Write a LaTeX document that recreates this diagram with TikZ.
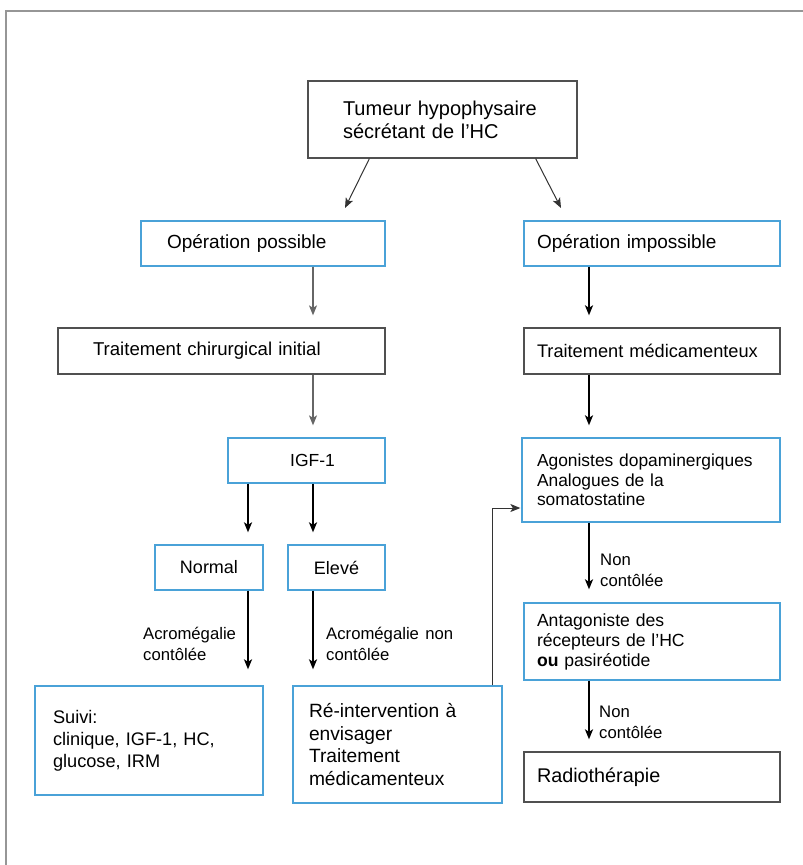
\documentclass[tikz,border=0pt]{standalone}
\usepackage{fontspec}
\setmainfont{Liberation Sans}[WordSpace=1.35]
\usetikzlibrary{arrows.meta,calc}
\definecolor{bbl}{RGB}{74,162,216}
\definecolor{gbx}{RGB}{80,80,80}
\definecolor{frm}{RGB}{150,150,150}
\newcommand\fz[2]{\fontsize{#1}{#2}\selectfont}
\begin{document}
\begin{tikzpicture}[x=1pt,y=-1pt,
  bluebox/.style={draw=bbl, line width=1.3pt, inner sep=0pt, align=left},
  greybox/.style={draw=gbx, line width=1.3pt, inner sep=0pt, align=left},
  thickarr/.style={line width=1.8pt, black, -{Stealth[length=10pt,width=8pt,inset=2.5pt]}},
  thinarr/.style={line width=1pt, black!80, -{Stealth[length=10pt,width=8pt,inset=2.5pt]}},
  greyarr/.style={line width=1.1pt, black!60, -{Stealth[length=10pt,width=8pt,inset=2.5pt]}},
  lbl/.style={anchor=west, inner sep=0pt, align=left, font=\fz{16.7}{21}},
  frame/.style={line width=1.7pt, frm}]
\useasboundingbox (0,0) rectangle (803,865);
\draw[frame] (6,866) -- (6,11) -- (804,11);

% boxes
\node[greybox, minimum width=269, minimum height=77, text width=199, font=\fz{20}{23}] (tum) at (442.5,119.5)
  {Tumeur hypophysaire\\sécrétant de l’HC};
\node[bluebox, minimum width=244, minimum height=45, text width=192, font=\fz{19}{22}] (opp) at (263,243.5)
  {Opération possible};
\node[bluebox, minimum width=256, minimum height=45, text width=230, font=\fz{19}{22}] (opi) at (652,243.5)
  {Opération impossible};
\node[greybox, minimum width=327, minimum height=46, text width=257, font=\fz{18.6}{22}] (chir) at (221.5,351)
  {Traitement chirurgical initial};
\node[greybox, minimum width=256, minimum height=46, text width=230, font=\fz{18.2}{22}] (med) at (652,351)
  {Traitement médicamenteux};
\node[bluebox, minimum width=157, minimum height=45, align=center, font=\fz{17.5}{21}] (igf) at (306.5,460.5)
  {\hspace*{12pt}IGF-1};
\node[bluebox, minimum width=108, minimum height=45, align=center, font=\fz{18}{21}] (nor) at (209,567.5)
  {Normal};
\node[bluebox, minimum width=97, minimum height=45, align=center, font=\fz{18}{21}] (ele) at (336.5,567.5)
  {Elevé};
\node[bluebox, minimum width=258, minimum height=84, text width=228, font=\fz{17.4}{19.5}] (ago) at (651,480)
  {Agonistes dopaminergiques\\Analogues de la\\somatostatine};
\node[bluebox, minimum width=256, minimum height=77, text width=230, font=\fz{17.6}{20}] (ant) at (652,641.5)
  {Antagoniste des\\récepteurs de l’HC\\\textbf{ou} pasiréotide};
\node[greybox, minimum width=256, minimum height=50, text width=230, font=\fz{19.8}{22}] (rad) at (652,777)
  {Radiothérapie};
\node[bluebox, minimum width=228, minimum height=109, text width=192, font=\fz{18.2}{22}] (sui) at (149,740.5)
  {Suivi:\\clinique, IGF-1, HC,\\glucose, IRM};
\node[bluebox, minimum width=209, minimum height=117, text width=177, font=\fz{19.2}{22.7}] (rei) at (397.5,744.5)
  {Ré-intervention à\\envisager\\Traitement\\médicamenteux};

% column coordinates
\coordinate (cA) at (248,0);
\coordinate (cB) at (313,0);
\coordinate (cC) at (589,0);
\coordinate (t1) at (345,208);
\coordinate (t2) at (561,208);

% connectors
\draw[thinarr] ([xshift=62pt]tum.south west) -- (t1);
\draw[thinarr] ([xshift=-42pt]tum.south east) -- (t2);
\draw[greyarr, shorten >=12pt] (opp.south -| cB) -- (chir.north -| cB);
\draw[greyarr, shorten >=12pt] (chir.south -| cB) -- (igf.north -| cB);
\draw[thickarr, shorten >=12pt] (opi.south -| cC) -- (med.north -| cC);
\draw[thickarr, shorten >=12pt] (med.south -| cC) -- (ago.north -| cC);
\draw[thickarr, shorten >=12pt] (igf.south -| cA) -- (nor.north -| cA);
\draw[thickarr, shorten >=12pt] (igf.south -| cB) -- (ele.north -| cB);
\draw[thickarr, shorten >=16pt] (nor.south -| cA) -- (sui.north -| cA);
\draw[thickarr, shorten >=16pt] (ele.south -| cB) -- (rei.north -| cB);
\draw[thickarr, shorten >=13pt] (ago.south -| cC) -- (ant.north -| cC);
\draw[thickarr, shorten >=12pt] (ant.south -| cC) -- (rad.north -| cC);
\draw[thinarr, shorten >=1pt] ([xshift=-10pt]rei.north east) |- ([yshift=-28pt]ago.west);

% labels
\node[lbl] (l1) at (143,644) {Acromégalie\\contôlée};
\node[lbl] (l2) at (326,644) {Acromégalie non\\contôlée};
\node[lbl] (l3) at (600,570) {Non\\contôlée};
\node[lbl] (l4) at (599,722) {Non\\contôlée};
\end{tikzpicture}
\end{document}
